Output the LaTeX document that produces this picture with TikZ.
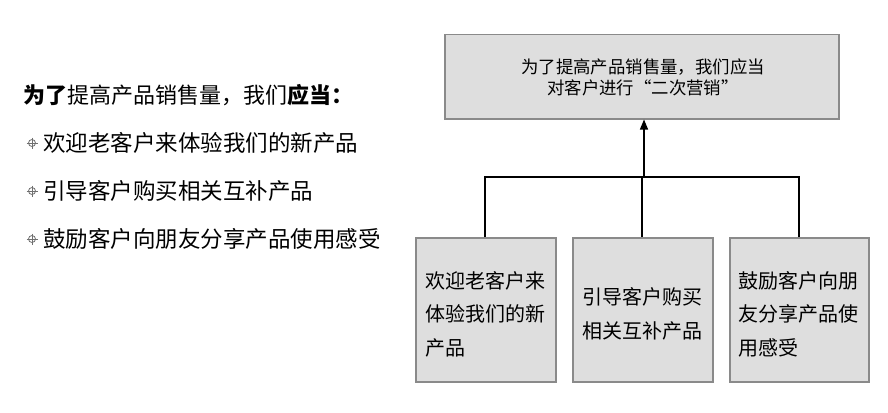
\documentclass[tikz,border=0pt]{standalone}
\usepackage{fontspec}
\setmainfont{Noto Sans CJK SC}
\usetikzlibrary{arrows.meta}
\definecolor{boxfill}{HTML}{DEDEDE}
\definecolor{boxline}{HTML}{8A8A8A}
\definecolor{bulletc}{HTML}{707070}
\tikzset{
  grbox/.style={draw=boxline, line width=1.5pt, fill=boxfill, minimum width=#1, inner sep=0pt, anchor=north west},
  conn/.style={draw=black, line width=1.2pt},
  boxtxt/.style={font=\fontsize{20}{33.5}\selectfont, align=left, anchor=west, inner sep=0pt},
  lefttxt/.style={font=\fontsize{22.5}{26}\selectfont, anchor=west, inner sep=0pt},
  pics/crossbullet/.style={code={
    \draw[bulletc, line width=0.8pt] (0,0) circle (3.5);
    \draw[bulletc, line width=0.8pt] (-5.5,0) -- (5.5,0) (0,-5.5) -- (0,5.5);
  }}
}
\begin{document}
\begin{tikzpicture}[x=1pt,y=-1pt]
\useasboundingbox (0,0) rectangle (888,412);
% left text
\node[lefttxt, font=\fontsize{22}{26}\selectfont] (title) at (23,95) {\textbf{为了}提高产品销售量，我们\textbf{应当：}};
\pic at (32,143) {crossbullet};
\node[lefttxt] (l1) at (43,143) {欢迎老客户来体验我们的新产品};
\pic at (32,191) {crossbullet};
\node[lefttxt] (l2) at (43,191) {引导客户购买相关互补产品};
\pic at (32,239) {crossbullet};
\node[lefttxt] (l3) at (43,239) {鼓励客户向朋友分享产品使用感受};
% top box
\node[grbox=394pt, minimum height=84pt] (top) at (444,34) {};
\node[font=\fontsize{17.4}{20}\selectfont, inner sep=0pt] (t1) at (643,67) {为了提高产品销售量，我们应当};
\node[font=\fontsize{17.4}{20}\selectfont, inner sep=0pt] (t2) at (643,88) {对客户进行“二次营销”};
% bottom boxes
\node[grbox=140pt, minimum height=144pt] (b1) at (415,237) {};
\node[grbox=140pt, minimum height=144pt] (b2) at (572,237) {};
\node[grbox=139pt, minimum height=144pt] (b3) at (729,237) {};
\node[boxtxt] (b1t) at (425,314) {欢迎老客户来\\体验我们的新\\产品};
\node[boxtxt] (b2t) at (582,314) {引导客户购买\\相关互补产品};
\node[boxtxt] (b3t) at (738,314) {鼓励客户向朋\\友分享产品使\\用感受};
% connectors
\coordinate (hj) at (644,177);
\draw[conn] (b1.north -| 485,0) |- (hj);
\draw[conn] (b3.north -| 799,0) |- (hj);
\draw[conn] (b2.north -| 642,0) -- (642,177);
\draw[conn, -{Triangle[length=10pt,width=8pt]}] (hj) -- (top.south -| hj);
\end{tikzpicture}
\end{document}
